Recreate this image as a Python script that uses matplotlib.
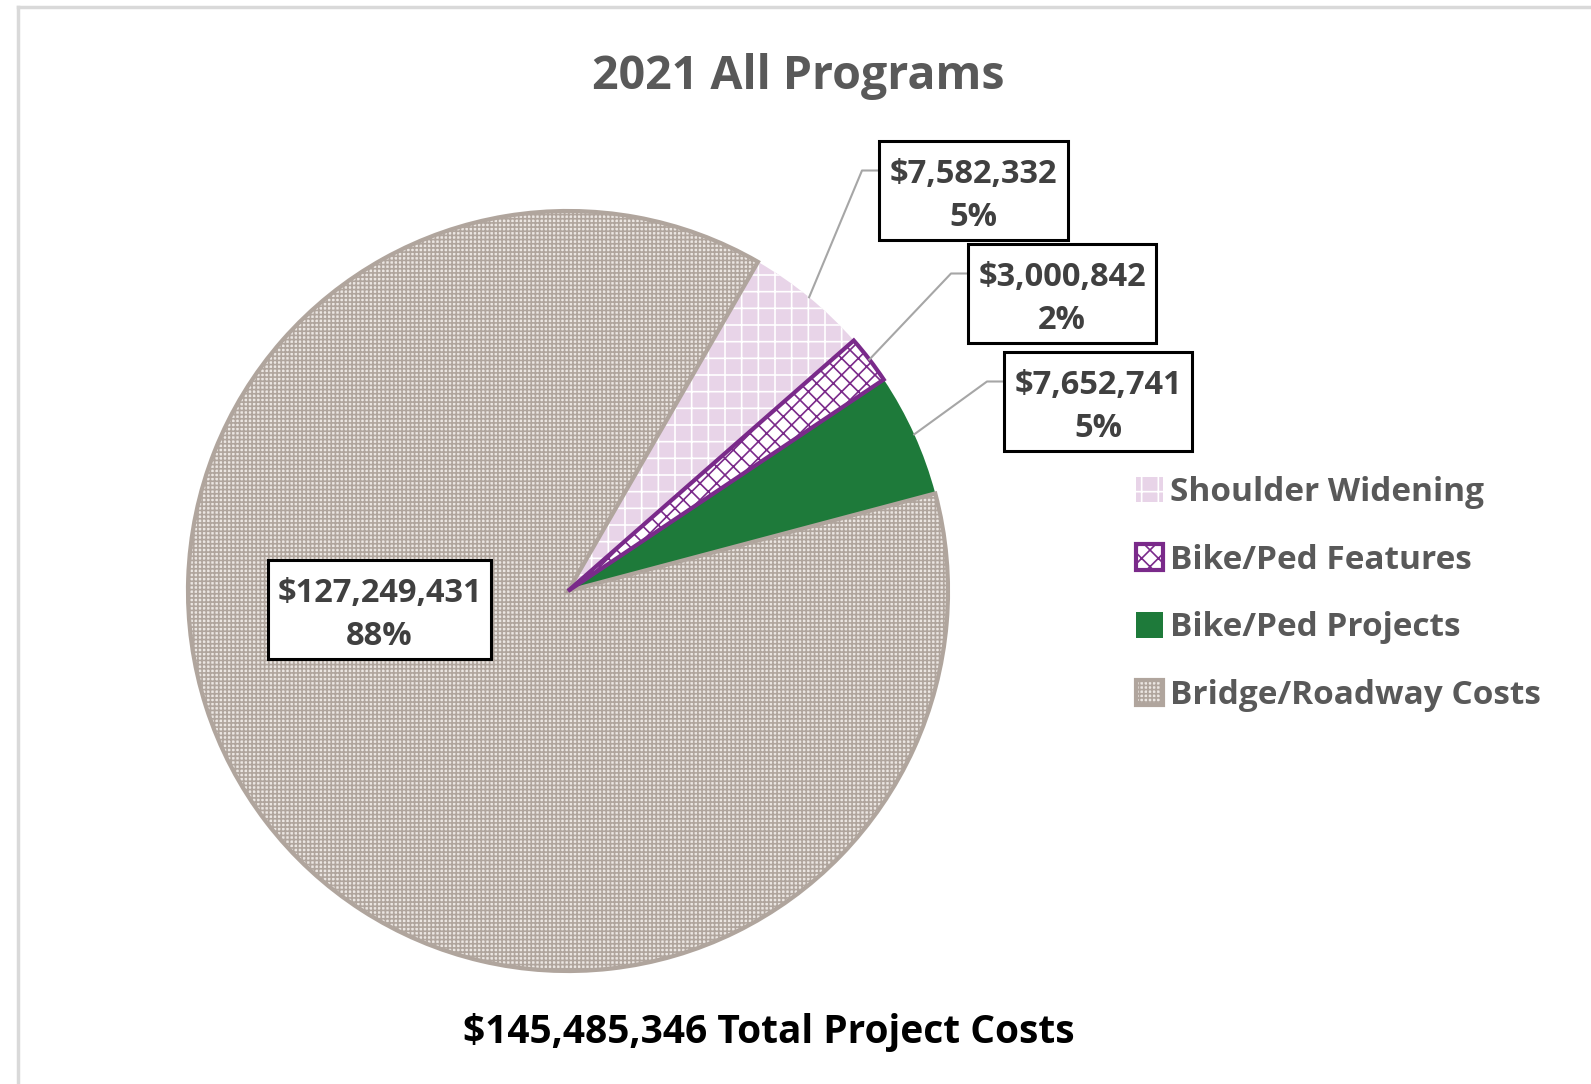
import matplotlib
matplotlib.use("Agg")
import matplotlib.pyplot as plt
from matplotlib.patches import Rectangle
import numpy as np

# ---- data ----
categories = ["Shoulder Widening", "Bike/Ped Features", "Bike/Ped Projects", "Bridge/Roadway Costs"]
values = [7582332, 3000842, 7652741, 127249431]
pct_labels = ["5%", "2%", "5%", "88%"]
title = "2021 All Programs"
total = sum(values)

# ---- style ----
W, H = 1591, 1084
CX, CY, R = 568, 591, 380
plt.rcParams["hatch.linewidth"] = 1.2
FONT = ["Open Sans", "DejaVu Sans"]

face = ["#e8d4e8", "#ffffff", "#1e7a3a", "#ebe6e2"]
edge = ["#ffffff", "#7a2a8a", "#1e7a3a", "#b0a59d"]
hatch = ["+", "xx", None, "++++"]
lw = [0, 3.0, 0, 3.0]
zord = [1, 4, 2, 3]

fig = plt.figure(figsize=(W / 100, H / 100), dpi=100)
ax = fig.add_axes([(CX - R) / W, (H - CY - R) / H, 2 * R / W, 2 * R / H])

wedges, _ = ax.pie(values, startangle=60, counterclock=False, radius=1, center=(0, 0))
for w, fc, ec, ht, l, z in zip(wedges, face, edge, hatch, lw, zord):
    w.set_facecolor(fc)
    w.set_edgecolor(ec)
    if ht:
        w.set_hatch(ht)
    w.set_linewidth(l)
    w.set_zorder(z)
ax.set_xlim(-1, 1)
ax.set_ylim(-1, 1)
ax.set_aspect("equal")
ax.axis("off")


def d(px, py):
    return (px - CX) / R, (CY - py) / R


# label boxes (pixel layout: left, top, right, bottom)
boxes = [(879, 141, 1068, 240), (968, 244, 1156, 343), (1004, 352, 1192, 451), (268, 560, 491, 659)]
leader = [True, True, True, False]
for i, (w, (l, t, r, b)) in enumerate(zip(wedges, boxes)):
    cy = (t + b) / 2
    cx = (l + r) / 2
    x0, y0 = d(l, b)
    x1, y1 = d(r, t)
    ax.add_patch(Rectangle((x0, y0), x1 - x0, y1 - y0, facecolor="white", edgecolor="black",
                           linewidth=2.2, zorder=6, clip_on=False))
    ax.text(*d(cx, cy - 16), f"${values[i]:,}", ha="center", va="center", fontsize=23.5,
            fontweight="bold", color="#404040", family=FONT, zorder=7, clip_on=False)
    ax.text(*d(cx, cy + 27), pct_labels[i], ha="center", va="center", fontsize=23.5,
            fontweight="bold", color="#404040", family=FONT, zorder=7, clip_on=False)
    if leader[i]:
        mid = np.deg2rad((w.theta1 + w.theta2) / 2)
        ex, ey = np.cos(mid), np.sin(mid)
        kx, ky = d(l - 17, cy - 20)
        bx, by = d(l, cy - 20)
        ax.plot([ex, kx, bx], [ey, ky, by], color="#a6a6a6", lw=1.5, zorder=5, clip_on=False)

# title and total
fig.text(798 / W, 1 - 77 / H, title, ha="center", va="center", fontsize=33.5,
         fontweight="bold", color="#595959", family=FONT)
fig.text(769 / W, 1 - 1033 / H, f"${total:,} Total Project Costs", ha="center", va="center",
         fontsize=28, fontweight="bold", color="black", family=FONT)

# legend
leg = fig.legend(wedges, categories, loc="upper left", bbox_to_anchor=(1136 / W, 1 - 476 / H),
                 frameon=False, handlelength=0.8, handleheight=0.8, handletextpad=0.22,
                 labelspacing=1.04, borderpad=0, borderaxespad=0,
                 prop={"family": FONT, "weight": "bold", "size": 24})
for txt in leg.get_texts():
    txt.set_color("#595959")

# chart area border
fig.add_artist(plt.Line2D([17.5 / W, 17.5 / W], [0, 1 - 6.5 / H], color="#d9d9d9", lw=2.5,
                          transform=fig.transFigure))
fig.add_artist(plt.Line2D([17.5 / W, 1], [1 - 6.5 / H, 1 - 6.5 / H], color="#d9d9d9", lw=2.5,
                          transform=fig.transFigure))

fig.savefig("out.png", dpi=100, facecolor="white")
